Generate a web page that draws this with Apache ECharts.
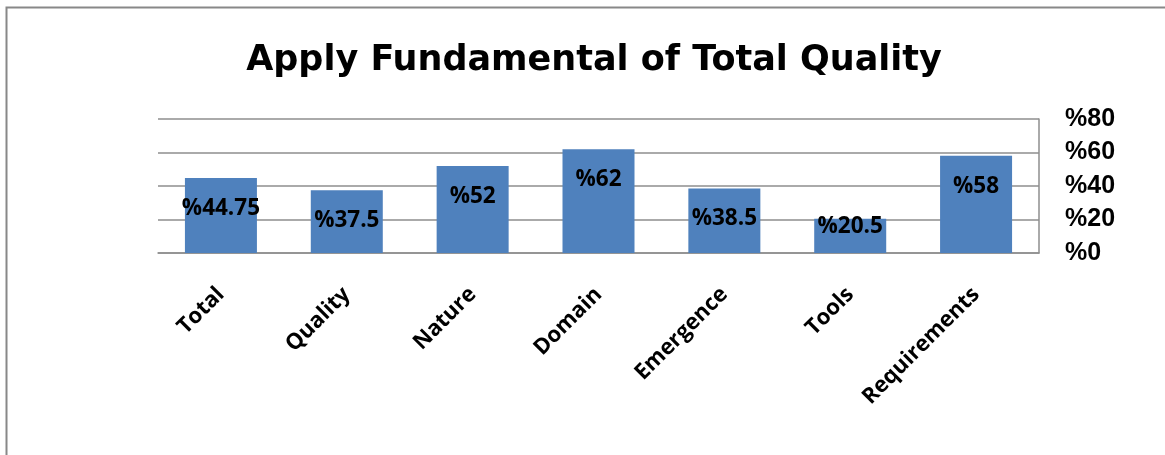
<!DOCTYPE html>
<html>
<head>
<meta charset="utf-8">
<script src="https://cdn.jsdelivr.net/npm/echarts@6/dist/echarts.min.js"></script>
<style>
html,body{margin:0;padding:0;background:#fff;}
#chart{width:1165px;height:455px;}
</style>
</head>
<body>
<div id="chart"></div>
<script>
const titleText = 'Apply Fundamental of Total Quality';
const categories = ['Total', 'Quality', 'Nature', 'Domain', 'Emergence', 'Tools', 'Requirements'];
const values = [44.75, 37.5, 52, 62, 38.5, 20.5, 58];
const yTicks = [0, 20, 40, 60, 80];

const chart = echarts.init(document.getElementById('chart'));
const labelFont = '"Open Sans", "Noto Sans", sans-serif';

const seriesData = values.map((v, i) => {
  const item = { value: v };
  if (categories[i] === 'Tools') {
    item.label = { distance: -4 };
  }
  return item;
});

chart.setOption({
  animation: false,
  backgroundColor: '#ffffff',
  graphic: [{
    type: 'rect',
    shape: { x: 6.5, y: 7.5, width: 2000, height: 1000 },
    style: { fill: 'none', stroke: '#888888', lineWidth: 2 },
    silent: true, z: 100
  }],
  title: {
    text: titleText,
    left: 589,
    textAlign: 'center',
    top: 38,
    textStyle: { fontFamily: '"DejaVu Sans", sans-serif', fontWeight: 'bold', fontSize: 35, color: '#000' }
  },
  grid: { left: 158, right: 126, top: 119, bottom: 202, containLabel: false },
  xAxis: {
    type: 'category',
    data: categories,
    boundaryGap: true,
    axisLine: { show: true, lineStyle: { color: '#8e8e8e', width: 1.5 } },
    axisTick: { show: false },
    axisLabel: {
      interval: 0,
      rotate: 45,
      margin: 38,
      align: 'right',
      verticalAlign: 'middle',
      lineHeight: 22,
      fontFamily: labelFont,
      fontWeight: 'bold',
      fontSize: 22,
      color: '#000'
    }
  },
  yAxis: {
    type: 'value',
    position: 'right',
    min: yTicks[0],
    max: yTicks[yTicks.length - 1],
    interval: yTicks[1] - yTicks[0],
    axisLine: { show: true, lineStyle: { color: '#8e8e8e', width: 1.5 } },
    axisTick: { show: false },
    splitLine: { show: true, lineStyle: { color: '#8e8e8e', width: 1.5 } },
    axisLabel: {
      margin: 26,
      formatter: v => '%' + v,
      fontFamily: '"Liberation Sans", Arial, sans-serif',
      fontWeight: 'bold',
      fontSize: 25,
      color: '#000'
    }
  },
  series: [{
    type: 'bar',
    data: seriesData,
    barWidth: 72,
    itemStyle: { color: '#4F81BD' },
    label: {
      show: true,
      position: 'insideTop',
      distance: 19,
      formatter: p => '%' + p.value,
      fontFamily: labelFont,
      fontWeight: 'bold',
      fontSize: 22.5,
      color: '#000'
    }
  }]
});
</script>
</body>
</html>
